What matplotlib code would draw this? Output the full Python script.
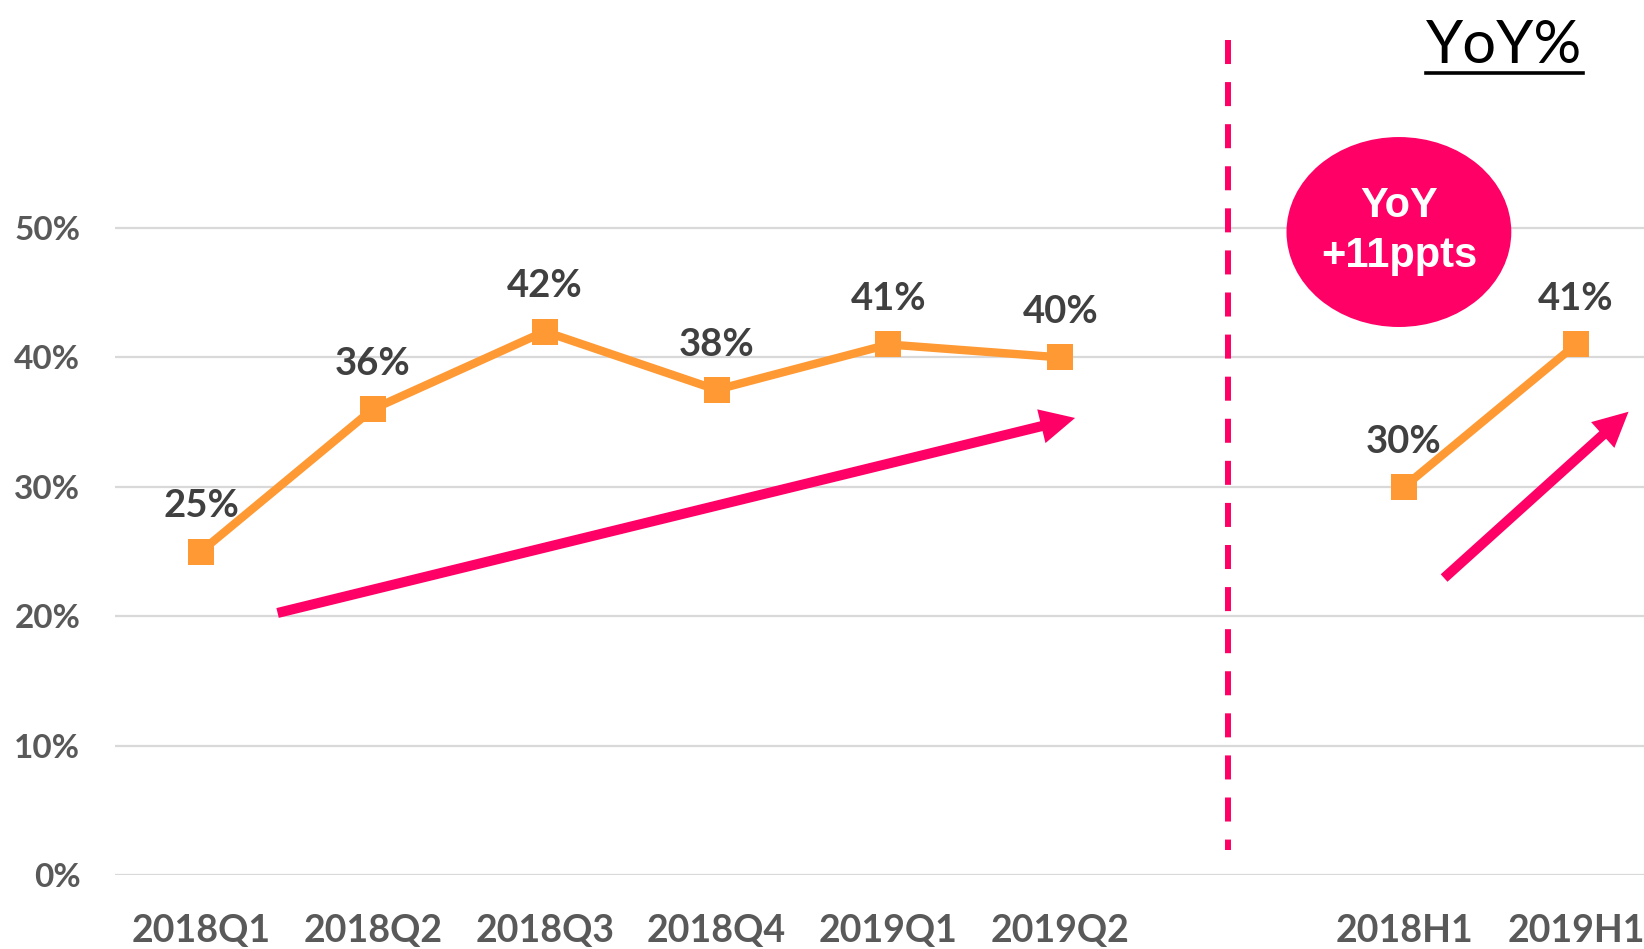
import matplotlib.pyplot as plt
from matplotlib.patches import Ellipse, FancyArrowPatch
from matplotlib.lines import Line2D

# YoY% by quarter and by half year

quarters = ['2018Q1', '2018Q2', '2018Q3', '2018Q4', '2019Q1', '2019Q2']
q_yoy = [25, 36, 42, 37.5, 41, 40]
q_labels = ['25%', '36%', '42%', '38%', '41%', '40%']

halves = ['2018H1', '2019H1']
h_yoy = [30, 41]
h_labels = ['30%', '41%']

y_ticks = [0, 10, 20, 30, 40, 50]

ORANGE = '#FF9933'
PINK = '#FF0066'
FONT = 'Lato'


def save_and_show_result():
    plt.rcParams['font.family'] = [FONT, 'DejaVu Sans']
    plt.rcParams['lines.scale_dashes'] = False

    fig = plt.figure(figsize=(16.44, 9.49), dpi=100)
    # axes box: left edge at 115px, 0% at 875px from top
    ax = fig.add_axes([115 / 1644, 74 / 949, 1 - 115 / 1644, 875 / 949])

    q_x = list(range(len(quarters)))
    h_x = [len(quarters) + 1 + i for i in range(len(halves))]
    ax.set_xlim(-0.5, 8.396)
    ax.set_ylim(0, 67.62)

    for s in ax.spines.values():
        s.set_visible(False)
    ax.set_yticks(y_ticks)
    ax.set_yticklabels([f'{v}%' for v in y_ticks])
    ax.set_xticks(q_x + h_x)
    ax.set_xticklabels(quarters + halves)
    ax.tick_params(axis='both', length=0, colors='#595959')
    ax.tick_params(axis='y', pad=25, labelsize=24)
    ax.tick_params(axis='x', pad=28, labelsize=27)
    for lab in ax.get_xticklabels() + ax.get_yticklabels():
        lab.set_fontweight('bold')
    ax.yaxis.grid(True, color='#D9D9D9', lw=1.6)
    ax.set_axisbelow(True)

    for xs, ys, labels in [(q_x, q_yoy, q_labels), (h_x, h_yoy, h_labels)]:
        ax.plot(xs, ys, color=ORANGE, lw=6, marker='s', markersize=19,
                markeredgewidth=0, zorder=3)
        for x, y, t in zip(xs, ys, labels):
            ax.annotate(t, (x, y), xytext=(0, 24.5), textcoords='offset points',
                        ha='center', va='baseline', fontsize=27.5,
                        fontweight='bold', color='#404040')

    # divider between quarterly and half-year parts
    ax.plot([5.977, 5.977], [64.5, 1.93], color=PINK, lw=4.3, dashes=(17.3, 13),
            clip_on=False, zorder=2)

    # trend arrows
    for tail, tip in [((0.446, 20.25), (5.086, 35.32)),
                      ((7.233, 22.95), (8.306, 35.8))]:
        arr = FancyArrowPatch(tail, tip,
                              arrowstyle='simple,head_length=1.0,head_width=1.0,tail_width=0.29',
                              mutation_scale=25, color=PINK, lw=0,
                              shrinkA=0, shrinkB=0, zorder=4, clip_on=False)
        ax.add_patch(arr)

    # callout bubble
    ax.add_patch(Ellipse((6.97, 49.69), 1.308, 14.68, color=PINK, lw=0, zorder=4))
    ax.text(6.97, 50.85, 'YoY', ha='center', va='baseline', fontsize=30,
            fontweight='bold', color='white', family='Liberation Sans', zorder=5)
    ax.text(6.97, 46.99, '+11ppts', ha='center', va='baseline', fontsize=30,
            fontweight='bold', color='white', family='Liberation Sans', zorder=5)

    # title with underline
    fig.text(1504.5 / 1644, 1 - 63 / 949, 'YoY%', ha='center', va='baseline',
             fontsize=43, color='black')
    fig.add_artist(Line2D([1426 / 1644, 1583 / 1644], [1 - 73 / 949, 1 - 73 / 949],
                          color='black', lw=2.6, transform=fig.transFigure))

    fig.savefig('out.png', dpi=100)


def main():
    save_and_show_result()


if __name__ == '__main__':
    main()
